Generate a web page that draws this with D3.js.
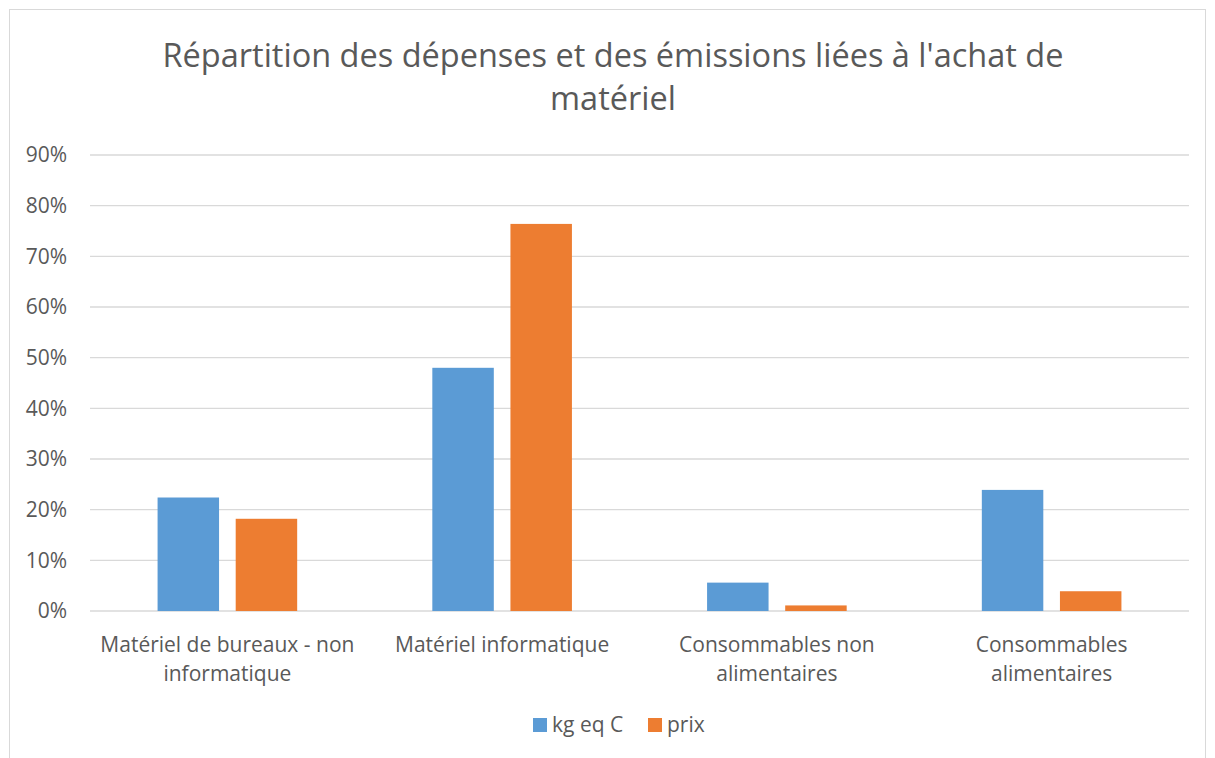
<!DOCTYPE html>
<html>
<head>
<meta charset="utf-8">
<script src="https://cdn.jsdelivr.net/npm/d3@7"></script>
<style>
  html, body { margin: 0; padding: 0; background: #fff; }
  svg text { font-family: "Open Sans", Lato, sans-serif; fill: #595959; }
</style>
</head>
<body>
<div class="chart-container"></div>
<script>
//! DATA
const categories = [
  'Matériel de bureaux - non informatique',
  'Matériel informatique',
  'Consommables non alimentaires',
  'Consommables alimentaires'
];
const seriesNames = ['kg eq C', 'prix'];
const kgEqC = [0.224, 0.48, 0.056, 0.239];
const prix = [0.182, 0.764, 0.011, 0.039];
const yTicks = [0, 0.1, 0.2, 0.3, 0.4, 0.5, 0.6, 0.7, 0.8, 0.9];
const titleLines = ["Répartition des dépenses et des émissions liées à l'achat de", 'matériel'];

//! CONSTS
const WIDTH = 1215;
const HEIGHT = 758;
const COLORS = ['#5B9BD5', '#ED7D31'];
const PLOT = { left: 90, right: 1189, top: 155, bottom: 611 };
const FONT = '"Open Sans", Lato, sans-serif';

const svg = d3.select('.chart-container')
  .append('svg')
  .attr('width', WIDTH)
  .attr('height', HEIGHT);

// chart frame
svg.append('rect')
  .attr('x', 9.5).attr('y', 9.5)
  .attr('width', 1196).attr('height', 800)
  .attr('fill', '#fff')
  .attr('stroke', '#d9d9d9');

// title
svg.append('g')
  .selectAll('text')
  .data(titleLines)
  .enter()
  .append('text')
  .attr('x', 613)
  .attr('y', (d, i) => 67 + i * 43)
  .attr('text-anchor', 'middle')
  .style('font-size', '32.5px')
  .text(d => d);

//! SCALES
const y = d3.scaleLinear().domain([0, 0.9]).range([PLOT.bottom, PLOT.top]);
const x0 = d3.scaleBand().domain(categories).range([PLOT.left, PLOT.right]).padding(0);
const x1 = d3.scaleBand().domain(seriesNames).range([-69.8, 69.8]).paddingInner(0.213);

// gridlines
svg.append('g')
  .selectAll('line')
  .data(yTicks)
  .enter()
  .append('line')
  .attr('x1', PLOT.left)
  .attr('x2', PLOT.right)
  .attr('y1', d => y(d))
  .attr('y2', d => y(d))
  .attr('stroke', '#d9d9d9')
  .attr('stroke-width', 1.3);

// y axis labels
const yAxis = d3.axisLeft(y)
  .tickValues(yTicks)
  .tickSize(0)
  .tickPadding(0)
  .tickFormat(d3.format('.0%'));

const yg = svg.append('g')
  .attr('transform', 'translate(67,0)')
  .call(yAxis);
yg.select('.domain').remove();
yg.selectAll('text')
  .style('font-size', '21px')
  .attr('fill', '#595959')
  .style('font-family', FONT);

// bars
const rows = categories.map((c, i) => ({ cat: c, values: [kgEqC[i], prix[i]] }));

const groups = svg.append('g')
  .selectAll('g')
  .data(rows)
  .enter()
  .append('g')
  .attr('transform', d => `translate(${x0(d.cat) + x0.bandwidth() / 2},0)`);

groups.selectAll('rect')
  .data(d => d.values.map((v, j) => ({ name: seriesNames[j], v, j })))
  .enter()
  .append('rect')
  .attr('x', d => x1(d.name))
  .attr('width', x1.bandwidth())
  .attr('y', d => y(d.v))
  .attr('height', d => y(0) - y(d.v))
  .attr('fill', d => COLORS[d.j]);

// category labels (wrapped like Excel)
const xAxis = d3.axisBottom(x0).tickSize(0).tickPadding(0);
const xg = svg.append('g')
  .attr('transform', `translate(0,${PLOT.bottom})`)
  .call(xAxis);
xg.select('.domain').remove();
xg.selectAll('text')
  .style('font-size', '21px')
  .attr('fill', '#595959')
  .style('font-family', FONT)
  .attr('y', 0)
  .attr('dy', 0)
  .each(function (d) {
    const el = d3.select(this);
    const words = d.split(' ');
    el.text(null);
    let line = [];
    let lineNo = 0;
    let tspan = el.append('tspan').attr('x', 0).attr('y', 41);
    words.forEach(w => {
      line.push(w);
      tspan.text(line.join(' '));
      if (tspan.node().getComputedTextLength() > 262 && line.length > 1) {
        line.pop();
        tspan.text(line.join(' '));
        line = [w];
        lineNo++;
        tspan = el.append('tspan').attr('x', 0).attr('y', 41 + lineNo * 29).text(w);
      }
    });
  });

// legend
const legend = svg.append('g').attr('transform', 'translate(533,725)');
const legendX = [0, 115];
const items = legend.selectAll('g')
  .data(seriesNames)
  .enter()
  .append('g')
  .attr('transform', (d, i) => `translate(${legendX[i]},0)`);
items.append('rect')
  .attr('x', 0).attr('y', -7)
  .attr('width', 14).attr('height', 14)
  .attr('fill', (d, i) => COLORS[i]);
items.append('text')
  .attr('x', 19)
  .attr('y', 7)
  .style('font-size', '21px')
  .text(d => d);
</script>
</body>
</html>
